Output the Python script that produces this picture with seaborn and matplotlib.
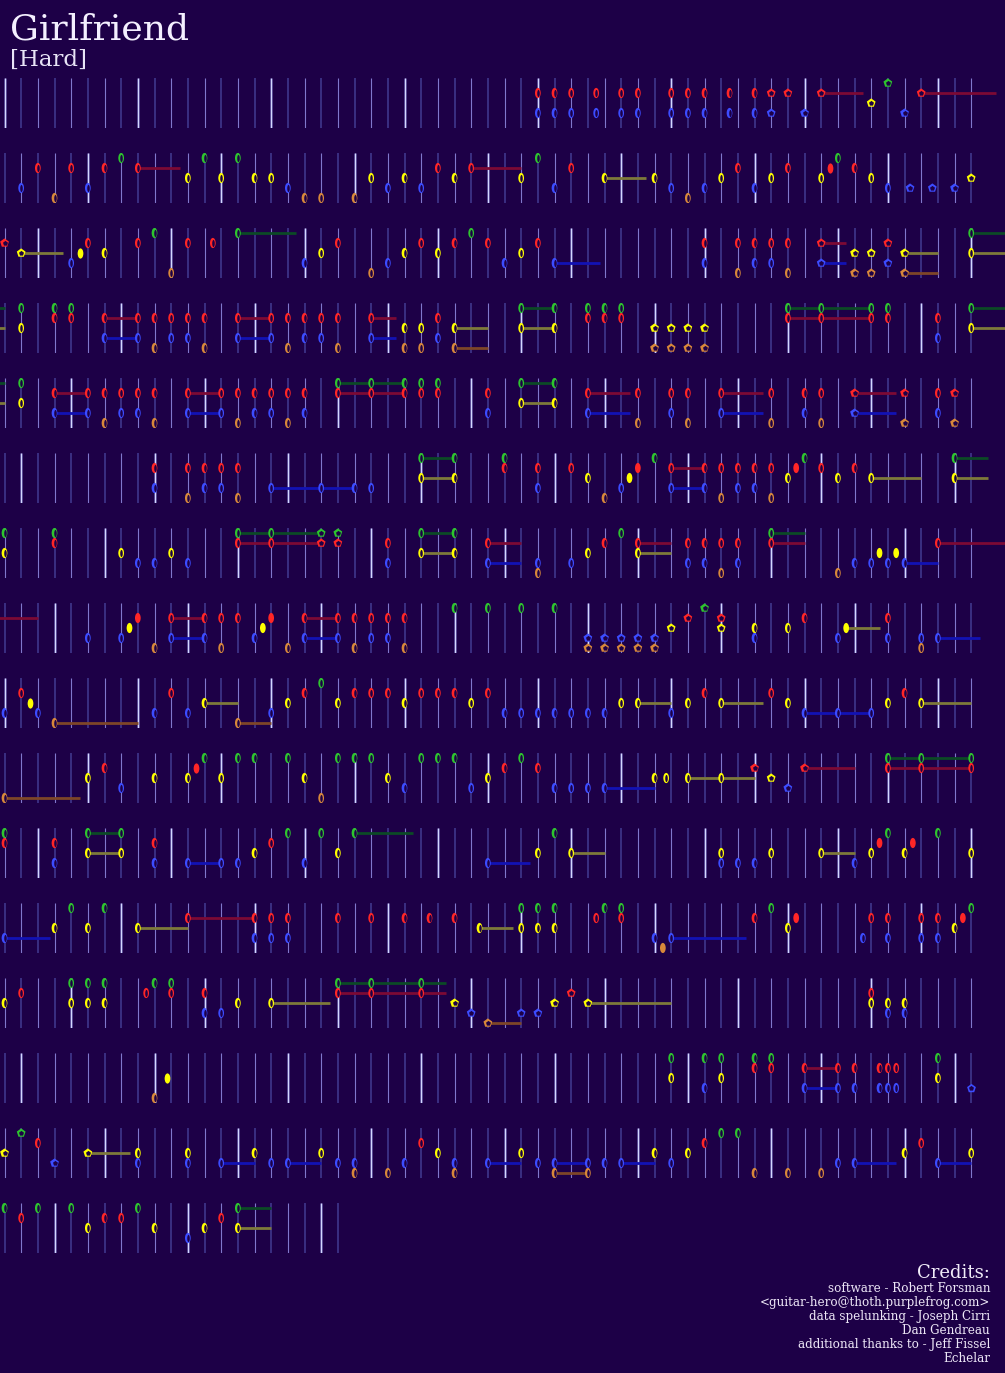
import matplotlib
matplotlib.use("Agg")
import matplotlib.pyplot as plt
import seaborn as sns
import numpy as np
import pandas as pd
from matplotlib.path import Path
from matplotlib.transforms import Affine2D

song_title = "Girlfriend"
difficulty = "[Hard]"
credit_head = "Credits:"
credit_lines = ["software - Robert Forsman",
                "<guitar-hero@thoth.purplefrog.com>",
                "data spelunking - Joseph Cirri",
                "Dan Gendreau",
                "additional thanks to - Jeff Fissel",
                "Echelar"]

lanes = ["G", "R", "Y", "B", "O"]
ticks_per_row = 59
last_row_ticks = 21

# (tick, frets, kind, sustain end)  kind: o ring, * star, f filled
row01 = [(32, "RB"), (33, "RB"), (34, "RB"), (35.5, "RB"), (37, "RB"), (38, "RB"), (40, "RB"), (41, "RB"),
         (42, "RB"), (43.5, "RB"), (45, "RB"), (46, "RB", "*"), (47, "R", "*"), (48, "B", "*"),
         (49, "R", "*", 51.5), (52, "Y", "*"), (53, "G", "*"), (54, "B", "*"), (55, "R", "*", 59.5)]
row02 = [(1, "B"), (2, "R"), (3, "O"), (4, "R"), (5, "B"), (6, "R"), (7, "G"), (8, "R", "o", 10.5), (11, "Y"),
         (12, "G"), (13, "Y"), (14, "G"), (15, "Y"), (16, "Y"), (17, "B"), (18, "O"), (19, "O"), (21, "O"),
         (22, "Y"), (23, "B"), (24, "Y"), (25, "B"), (26, "R"), (27, "Y"), (28, "R", "o", 31), (31, "Y"),
         (32, "G"), (33, "B"), (34, "R"), (36, "Y", "o", 38.5), (39, "Y"), (40, "B"), (41, "O"), (42, "B"),
         (43, "Y"), (44, "R"), (45, "B"), (46, "Y"), (47, "R"), (49, "Y"), (49.5, "R", "f"), (50, "G"),
         (51, "R"), (52, "Y"), (53, "B"), (54.33, "B", "*"), (55.67, "B", "*"), (57, "B", "*"), (58, "Y", "*")]
row03 = [(0, "R", "*"), (1, "Y", "*", 3.5), (4, "B"), (4.5, "Y", "f"), (5, "R"), (6, "Y"), (8, "R"), (9, "G"),
         (10, "O"), (11, "R"), (12.5, "R"), (14, "G", "o", 17.5), (18, "B"), (19, "Y"), (20, "R"), (22, "O"),
         (23, "B"), (24, "Y"), (25, "R"), (26, "Y"), (27, "R"), (28, "G"), (29, "R"), (30, "B"), (31, "Y"),
         (32, "R"), (33, "B", "o", 35.7), (42, "RB"), (44, "RO"), (45, "RB"), (46, "RB"), (47, "RO"),
         (49, "RB", "*", 50.5), (51, "YO", "*"), (52, "YO", "*"), (53, "RB", "*"), (54, "YO", "*", 56),
         (58, "GY", "o", 60)]
row04 = [(1, "GY"), (3, "GR"), (4, "GR"), (6, "RB", "o", 8), (8, "RB"), (9, "RO"), (10, "RB"), (11, "RB"),
         (12, "RO"), (14, "RB", "o", 16), (16, "RB"), (17, "RO"), (18, "RB"), (19, "RB"), (20, "RO"),
         (22, "RB", "o", 23.5), (24, "YO"), (25, "YO"), (26, "RB"), (27, "YO", "o", 29), (31, "GY", "o", 33),
         (33, "GY"), (35, "GR"), (36, "GR"), (37, "GR"), (39, "YO", "*"), (40, "YO", "*"), (41, "YO", "*"),
         (42, "YO", "*"), (47, "GR", "o", 52), (49, "GR"), (52, "GR"), (53, "GR"), (56, "RB"), (58, "GY", "o", 60)]
row05 = [(1, "GY"), (3, "RB", "o", 5), (5, "RB"), (6, "RO"), (7, "RB"), (8, "RB"), (9, "RO"), (11, "RB", "o", 13),
         (13, "RB"), (14, "RO"), (15, "RB"), (16, "RB"), (17, "RO"), (18, "RB"), (20, "GR", "o", 24), (22, "GR"),
         (24, "GR"), (25, "GR"), (26, "GR"), (29, "RB"), (31, "GY", "o", 33), (33, "GY"), (35, "RB", "o", 37.5),
         (38, "RO"), (40, "RB"), (41, "RO"), (43, "RB", "o", 45.5), (46, "RO"), (48, "RB"), (49, "RO"),
         (51, "RB", "*", 53.5), (54, "RO", "*"), (56, "RB"), (57, "RO", "*")]
row06 = [(9, "RB"), (11, "RO"), (12, "RB"), (13, "RB"), (14, "RO"), (16, "B", "o", 19), (19, "B", "o", 21),
         (21, "B"), (22, "B"), (25, "GY", "o", 27), (27, "GY"), (30, "GR"), (32, "RB"), (34, "R"), (35, "Y"),
         (36, "O"), (37, "B"), (37.5, "Y", "f"), (38, "R", "f"), (39, "G"), (40, "RB", "o", 42), (42, "RB"),
         (43, "RO"), (44, "RB"), (45, "RB"), (46, "RO"), (47, "Y"), (47.5, "R", "f"), (48, "G"), (49, "R"),
         (50, "Y"), (51, "R"), (52, "Y", "o", 55), (57, "GY", "o", 59)]
row07 = [(0, "GY"), (3, "GR"), (7, "Y"), (8, "B"), (9, "B"), (10, "Y"), (11, "B"), (14, "GR", "o", 19),
         (16, "GR"), (19, "GR", "*"), (20, "GR", "*"), (23, "RB"), (25, "GY", "o", 27), (27, "GY"),
         (29, "RB", "o", 31), (32, "BO"), (34, "B"), (35, "Y"), (36, "R"), (37, "G"), (38, "RY", "o", 40),
         (41, "RB"), (42, "RB"), (43, "RO"), (44, "RB"), (46, "GR", "o", 48), (50, "O"), (51, "B"), (52, "B"),
         (52.5, "Y", "f"), (53, "B"), (53.5, "Y", "f"), (54, "B", "o", 56), (56, "R", "o", 62)]
row08 = [(5, "B"), (7, "B"), (7.5, "Y", "f"), (8, "R", "f"), (9, "O"), (10, "RB", "o", 12), (12, "RB"), (13, "RO"),
         (14, "R"), (15, "B"), (15.5, "Y", "f"), (16, "R", "f"), (17, "O"), (18, "RB", "o", 20), (20, "RB"),
         (21, "RO"), (22, "RB"), (23, "RB"), (24, "RO"), (27, "G"), (29, "G"), (31, "G"), (33, "G"),
         (35, "BO", "*"), (36, "BO", "*"), (37, "BO", "*"), (38, "BO", "*"), (39, "BO", "*"), (40, "Y", "*"),
         (41, "R", "*"), (42, "G", "*"), (43, "RY", "*"), (45, "YB"), (47, "Y"), (48, "R"), (50, "B"),
         (50.5, "Y", "f", 52.5), (53, "RB"), (55, "BO"), (56, "B", "o", 58.5)]
row09 = [(0, "B"), (1, "R"), (1.5, "Y", "f"), (2, "B"), (3, "O", "o", 8), (9, "B"), (10, "R"), (11, "B"),
         (12, "Y", "o", 14), (14, "O", "o", 16), (16, "B"), (17, "Y"), (18, "R"), (19, "G"), (20, "Y"), (21, "R"),
         (22, "R"), (23, "R"), (24, "Y"), (25, "R"), (26, "R"), (27, "R"), (28, "Y"), (29, "R"), (30, "B"),
         (31, "B"), (32, "B"), (33, "B"), (34, "B"), (35, "B"), (36, "B"), (37, "Y"), (38, "Y", "o", 40),
         (40, "B"), (41, "Y"), (42, "R"), (43, "Y", "o", 45.5), (46, "R"), (47, "Y"), (48, "B", "o", 52),
         (50, "B"), (52, "B"), (53, "Y"), (54, "R"), (55, "Y", "o", 58)]
row10 = [(0, "O", "o", 4.5), (5, "Y"), (6, "R"), (7, "B"), (9, "Y"), (11, "Y"), (11.5, "R", "f"), (12, "G"),
         (13, "Y"), (14, "G"), (15, "G"), (17, "G"), (18, "Y"), (19, "O"), (20, "G"), (21, "G"), (22, "G"),
         (23, "Y"), (24, "B"), (25, "G"), (26, "G"), (27, "G"), (28, "B"), (29, "Y"), (30, "R"), (31, "G"),
         (32, "R"), (33, "B"), (34, "B"), (35, "B"), (36, "B", "o", 39), (39, "Y"), (39.7, "Y"),
         (41, "Y", "o", 45), (43, "Y"), (45, "R", "*"), (46, "Y", "*"), (47, "B", "*"), (48, "R", "*", 51),
         (53, "GR", "o", 58), (55, "GR"), (58, "GR")]
row11 = [(0, "GR"), (3, "RB"), (5, "GY", "o", 7), (7, "GY"), (9, "RB"), (11, "B", "o", 13), (13, "B"), (14, "B"),
         (15, "Y"), (16, "R"), (17, "G"), (18, "B"), (19, "G"), (20, "Y"), (21, "G", "o", 24.5),
         (29, "B", "o", 31.5), (32, "Y"), (33, "G"), (34, "Y", "o", 36), (43, "YB"), (44, "B"), (45, "B"),
         (46, "Y"), (49, "Y", "o", 51), (51, "B"), (52, "Y"), (52.5, "R", "f"), (53, "G"), (54, "Y"),
         (54.5, "R", "f"), (56, "G"), (58, "Y")]
row12 = [(0, "B", "o", 2.7), (3, "Y"), (4, "G"), (5, "Y"), (6, "G"), (8, "Y", "o", 11), (11, "R", "o", 15),
         (15, "RB"), (16, "RB"), (17, "RB"), (20, "R"), (22, "R"), (24, "R"), (25.5, "R"), (27, "R"),
         (28.5, "Y", "o", 30.5), (31, "GY"), (32, "GY"), (33, "GY"), (35.5, "R"), (36, "G"), (37, "GR"),
         (39, "B"), (39.5, "O", "f"), (40, "B", "o", 44.5), (45, "R"), (46, "G"), (47, "Y"), (47.5, "R", "f"),
         (51.5, "B"), (52, "R"), (53, "RB"), (55, "RB"), (56, "RB"), (57, "Y"), (57.5, "R", "f"), (58, "G")]
row13 = [(0, "Y"), (1, "R"), (4, "GY"), (5, "GY"), (6, "GY"), (8.5, "R"), (9, "G"), (10, "GR"), (12, "RB"),
         (13, "B"), (14, "Y"), (16, "Y", "o", 19.5), (20, "GR", "o", 26.5), (22, "GR"), (25, "GR"),
         (27, "Y", "*"), (28, "B", "*"), (29, "O", "*", 31), (31, "B", "*"), (32, "B", "*"), (33, "Y", "*"),
         (34, "R", "*"), (35, "Y", "*", 40), (52, "RY"), (53, "YB"), (54, "YB")]
row14 = [(9, "O"), (9.75, "Y", "f"), (40, "GY"), (42, "GB"), (43, "GY"), (45, "GR"), (46, "GR"),
         (48, "RB", "o", 50), (50, "RB"), (51, "RB"), (52.5, "RB"), (53, "RB"), (53.5, "RB"), (56, "GY"),
         (58, "B", "*")]
row15 = [(0, "Y", "*"), (1, "G", "*"), (2, "R"), (3, "B", "*"), (5, "Y", "*", 7.5), (8, "YB"), (11, "YB"),
         (13, "B", "o", 15), (15, "Y"), (16, "B"), (17, "B", "o", 19), (19, "Y"), (20, "B"), (21, "BO"),
         (23, "O"), (24, "B"), (25, "R"), (26, "Y"), (27, "BO"), (29, "B", "o", 31), (31, "Y"), (32, "B"),
         (33, "BO", "o", 35), (35, "BO"), (36, "B"), (37, "B", "o", 39), (39, "Y"), (40, "B"), (41, "Y"),
         (42, "R"), (43, "G"), (44, "G"), (45, "O"), (47, "O"), (49, "O"), (50, "B"), (51, "B", "o", 53.5),
         (54, "Y"), (55, "R"), (56, "B", "o", 58), (58, "Y")]
row16 = [(0, "G"), (1, "R"), (2, "G"), (4, "G"), (5, "Y"), (6, "R"), (7, "R"), (8, "G"), (9, "Y"), (11, "B"),
         (12, "Y"), (13, "R"), (14, "GY", "o", 16)]

rows = [row01, row02, row03, row04, row05, row06, row07, row08,
        row09, row10, row11, row12, row13, row14, row15, row16]

bg = "#1d0047"
note_colors = {"G": "#2ec42e", "R": "#ff2626", "Y": "#ffff00", "B": "#3c4cff", "O": "#d8883a"}
tail_colors = {"G": "#0c4a26", "R": "#7c0a34", "Y": "#7e7a3a", "B": "#1212b4", "O": "#7e4628"}

sns.set_theme(style="dark", rc={"figure.facecolor": bg, "axes.facecolor": bg, "savefig.facecolor": bg})
plt.rcParams["font.family"] = ["DejaVu Serif"]

# table of single notes
recs = []
for r, row in enumerate(rows):
    for item in row:
        kind = item[2] if len(item) > 2 else "o"
        end = item[3] if len(item) > 3 else np.nan
        for key in item[1]:
            recs.append({"row": r, "tick": item[0], "key": key, "lane": lanes.index(key),
                         "kind": kind, "end": end})
notes = pd.DataFrame(recs)

ell_out = Path.unit_circle().transformed(Affine2D().scale(0.56, 1.0))
ell_in = Path.unit_circle().transformed(Affine2D().scale(0.36, 1.0))

W, H = 1005, 1373
px = 16.667
fig = plt.figure(figsize=(W / 100, H / 100), dpi=100)

axes = []
for r in range(len(rows)):
    top = 78 + 75 * r
    ax = fig.add_axes([0, 1 - (top + 50) / H, 1, 50 / H])
    ax.set_xlim(-4.5 / px, (W - 4.5) / px)
    ax.set_ylim(4.5, -0.5)
    ax.axis("off")
    axes.append(ax)

for r, ax in enumerate(axes):
    n = ticks_per_row if r < len(rows) - 1 else last_row_ticks
    k = np.arange(n)
    g = r * ticks_per_row + k
    odd = k[g % 2 == 1]
    even = k[(g % 2 == 0) & (g % 8 != 0)]
    bar = k[g % 8 == 0]
    ax.vlines(odd, -0.5, 4.5, color="#3a2f82", lw=1.4, zorder=1)
    ax.vlines(even, -0.5, 4.5, color="#8078cc", lw=0.8, zorder=1)
    ax.vlines(bar, -0.5, 4.5, color="#8c8ce8", lw=2.0, alpha=0.45, zorder=1)
    ax.vlines(bar, -0.5, 4.5, color="#d4d8ff", lw=0.9, zorder=1)

    sub = notes[notes["row"] == r]
    held = sub.dropna(subset=["end"])
    for _, nt in held.iterrows():
        ax.hlines(nt["lane"], nt["tick"], min(nt["end"], 60.2), color=tail_colors[nt["key"]], lw=2.0, zorder=2)
        if nt["end"] > ticks_per_row and r + 1 < len(axes):
            axes[r + 1].hlines(nt["lane"], -0.5, nt["end"] - 60, color=tail_colors[nt["key"]], lw=2.0, zorder=2)

    rings = sub[sub["kind"] == "o"]
    stars = sub[sub["kind"] == "*"]
    solid = sub[sub["kind"] == "f"]
    if len(rings):
        sns.scatterplot(data=rings, x="tick", y="lane", hue="key", palette=note_colors, marker=ell_out,
                        s=54, linewidth=0, legend=False, ax=ax, zorder=3)
        sns.scatterplot(data=rings, x="tick", y="lane", color=bg, marker=ell_in,
                        s=26, linewidth=0, legend=False, ax=ax, zorder=4)
    if len(stars):
        sns.scatterplot(data=stars, x="tick", y="lane", hue="key", palette=note_colors, marker="p",
                        s=44, linewidth=0, legend=False, ax=ax, zorder=3)
        sns.scatterplot(data=stars, x="tick", y="lane", color=bg, marker="p",
                        s=14, linewidth=0, legend=False, ax=ax, zorder=4)
    if len(solid):
        sns.scatterplot(data=solid, x="tick", y="lane", hue="key", palette=note_colors, marker=ell_out,
                        s=54, linewidth=0, legend=False, ax=ax, zorder=3)
    ax.set_xlim(-4.5 / px, (W - 4.5) / px)
    ax.set_ylim(4.5, -0.5)

fig.text(10 / W, 1 - 40 / H, song_title, fontsize=26, color="#f4f0ff", va="baseline", ha="left")
fig.text(10 / W, 1 - 66 / H, difficulty, fontsize=16.5, color="#e8e4f6", va="baseline", ha="left")
fig.text(990 / W, 1 - 1278 / H, credit_head, fontsize=13, color="#f0ecf8", va="baseline", ha="right")
for i, line in enumerate(credit_lines):
    fig.text(990 / W, 1 - (1292 + 14 * i) / H, line, fontsize=8.6, color="#ece6f6",
             va="baseline", ha="right")

fig.savefig("out.png", dpi=100, facecolor=bg)
